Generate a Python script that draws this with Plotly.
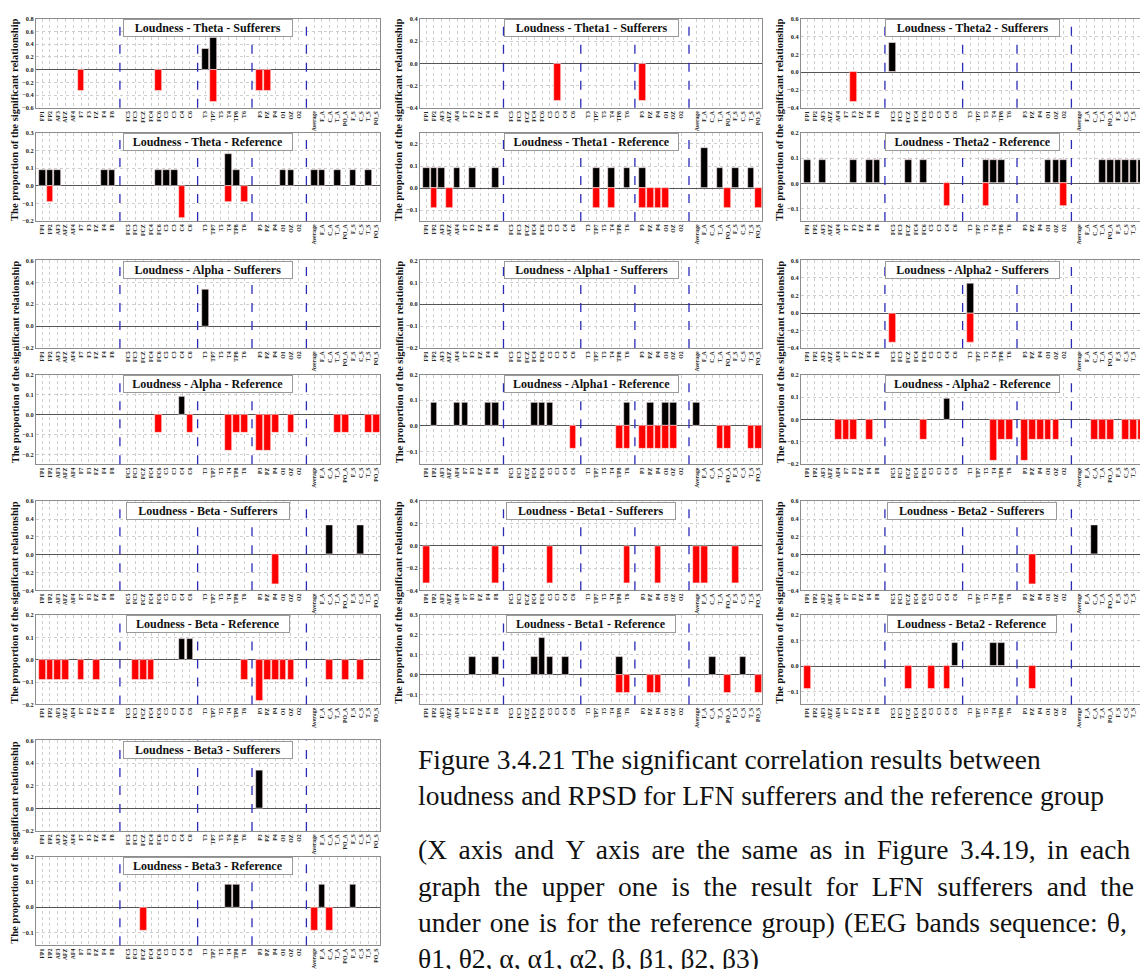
import plotly.graph_objects as go

# ---------------------------------------------------------------- channels
FRONTAL = ["FP1", "FP2", "AF3", "AFZ", "AF4", "F7", "F3", "FZ", "F4", "F8"]
CENTRAL = ["FC5", "FC3", "FCZ", "FC4", "FC6", "C5", "C3", "C4", "C6"]
TEMPORAL = ["T3", "TP7", "T5", "T4", "TP8", "T6"]
PARIETAL = ["P3", "PZ", "P4", "O1", "OZ", "O2"]
REGIONS = ["Average", "F_A", "C_A", "T_A", "PO_A", "F_S", "C_S", "T_S", "PO_S"]
GROUPS = [FRONTAL, CENTRAL, TEMPORAL, PARIETAL, REGIONS]

# ---------------------------------------------------------------- values
# proportion of significant positive (black) / negative (red) correlations
THETA_SUF_POS = {"T3": 0.333, "TP7": 0.5}
THETA_SUF_NEG = {"F7": -0.333, "FC6": -0.333, "TP7": -0.5, "P3": -0.333, "PZ": -0.333}
THETA_REF_POS = {"FP1": 0.091, "FP2": 0.091, "AF3": 0.091, "F4": 0.091, "F8": 0.091,
                 "FC6": 0.091, "C5": 0.091, "C3": 0.091, "T4": 0.182, "TP8": 0.091,
                 "O1": 0.091, "OZ": 0.091, "Average": 0.091, "F_A": 0.091,
                 "T_A": 0.091, "F_S": 0.091, "T_S": 0.091}
THETA_REF_NEG = {"FP2": -0.091, "C4": -0.182, "T4": -0.091, "T6": -0.091}

THETA1_SUF_POS = {}
THETA1_SUF_NEG = {"C3": -0.333, "P3": -0.333}
THETA1_REF_POS = {"FP1": 0.091, "FP2": 0.091, "AF3": 0.091, "AF4": 0.091, "F3": 0.091,
                  "F8": 0.091, "TP7": 0.091, "T4": 0.091, "T6": 0.091, "P3": 0.091,
                  "F_A": 0.182, "T_A": 0.091, "F_S": 0.091, "T_S": 0.091}
THETA1_REF_NEG = {"FP2": -0.091, "AFZ": -0.091, "TP7": -0.091, "T4": -0.091,
                  "P3": -0.091, "PZ": -0.091, "P4": -0.091, "O1": -0.091,
                  "PO_A": -0.091, "PO_S": -0.091}

THETA2_SUF_POS = {"FC5": 0.333}
THETA2_SUF_NEG = {"F3": -0.333}
THETA2_REF_POS = {"FP1": 0.091, "AF3": 0.091, "F3": 0.091, "F4": 0.091, "F8": 0.091,
                  "FCZ": 0.091, "FC6": 0.091, "T5": 0.091, "T4": 0.091, "TP8": 0.091,
                  "O1": 0.091, "OZ": 0.091, "O2": 0.091, "T_A": 0.091, "PO_A": 0.091,
                  "F_S": 0.091, "C_S": 0.091, "T_S": 0.091, "PO_S": 0.091}
THETA2_REF_NEG = {"C4": -0.091, "T5": -0.091, "O2": -0.091}

ALPHA_SUF_POS = {"T3": 0.333}
ALPHA_SUF_NEG = {}
ALPHA_REF_POS = {"C4": 0.091}
ALPHA_REF_NEG = {"FC6": -0.091, "C6": -0.091, "T4": -0.182, "TP8": -0.091,
                 "T6": -0.091, "P3": -0.182, "PZ": -0.182, "P4": -0.091,
                 "OZ": -0.091, "T_A": -0.091, "PO_A": -0.091, "T_S": -0.091,
                 "PO_S": -0.091}

ALPHA1_SUF_POS = {}
ALPHA1_SUF_NEG = {}
ALPHA1_REF_POS = {"FP2": 0.091, "AF4": 0.091, "F7": 0.091, "F4": 0.091, "F8": 0.091,
                  "FC4": 0.091, "FC6": 0.091, "C5": 0.091, "T6": 0.091, "PZ": 0.091,
                  "O1": 0.091, "OZ": 0.091, "Average": 0.091}
ALPHA1_REF_NEG = {"C6": -0.091, "TP8": -0.091, "T6": -0.091, "P3": -0.091,
                  "PZ": -0.091, "P4": -0.091, "O1": -0.091, "OZ": -0.091,
                  "T_A": -0.091, "PO_A": -0.091, "T_S": -0.091, "PO_S": -0.091}

ALPHA2_SUF_POS = {"T3": 0.333}
ALPHA2_SUF_NEG = {"FC5": -0.333, "T3": -0.333}
ALPHA2_REF_POS = {"C4": 0.091}
ALPHA2_REF_NEG = {"AF4": -0.091, "F7": -0.091, "F3": -0.091, "F4": -0.091,
                  "FC6": -0.091, "T4": -0.182, "TP8": -0.091, "T6": -0.091,
                  "P3": -0.182, "PZ": -0.091, "P4": -0.091, "O1": -0.091,
                  "OZ": -0.091, "C_A": -0.091, "T_A": -0.091, "PO_A": -0.091,
                  "C_S": -0.091, "T_S": -0.091, "PO_S": -0.091}

BETA_SUF_POS = {"C_A": 0.333, "C_S": 0.333}
BETA_SUF_NEG = {"P4": -0.333}
BETA_REF_POS = {"C4": 0.091, "C6": 0.091}
BETA_REF_NEG = {"FP1": -0.091, "FP2": -0.091, "AF3": -0.091, "AFZ": -0.091,
                "F7": -0.091, "FZ": -0.091, "FC3": -0.091, "FCZ": -0.091,
                "FC4": -0.091, "T6": -0.091, "P3": -0.182, "PZ": -0.091,
                "P4": -0.091, "O1": -0.091, "OZ": -0.091, "C_A": -0.091,
                "PO_A": -0.091, "C_S": -0.091}

BETA1_SUF_POS = {}
BETA1_SUF_NEG = {"FP1": -0.333, "F8": -0.333, "C5": -0.333, "T6": -0.333,
                 "P4": -0.333, "Average": -0.333, "F_A": -0.333, "F_S": -0.333}
BETA1_REF_POS = {"F3": 0.091, "F8": 0.091, "FC4": 0.091, "FC6": 0.182, "C5": 0.091,
                 "C4": 0.091, "TP8": 0.091, "C_A": 0.091, "C_S": 0.091}
BETA1_REF_NEG = {"TP8": -0.091, "T6": -0.091, "PZ": -0.091, "P4": -0.091,
                 "PO_A": -0.091, "PO_S": -0.091}

BETA2_SUF_POS = {"C_A": 0.333}
BETA2_SUF_NEG = {"PZ": -0.333}
BETA2_REF_POS = {"C6": 0.091, "T4": 0.091, "TP8": 0.091}
BETA2_REF_NEG = {"FP1": -0.091, "FCZ": -0.091, "C5": -0.091, "C4": -0.091,
                 "PZ": -0.091}

BETA3_SUF_POS = {"P3": 0.333}
BETA3_SUF_NEG = {}
BETA3_REF_POS = {"T4": 0.091, "TP8": 0.091, "F_A": 0.091, "F_S": 0.091}
BETA3_REF_NEG = {"FCZ": -0.091, "Average": -0.091, "C_A": -0.091}

# (band, column, pair row, sufferers data, reference data, sufferers y-range, reference y-range)
PANELS = [
    ("Theta", 0, 0, (THETA_SUF_POS, THETA_SUF_NEG), (THETA_REF_POS, THETA_REF_NEG), (-0.6, 0.8), (-0.2, 0.3)),
    ("Theta1", 1, 0, (THETA1_SUF_POS, THETA1_SUF_NEG), (THETA1_REF_POS, THETA1_REF_NEG), (-0.4, 0.4), (-0.15, 0.25)),
    ("Theta2", 2, 0, (THETA2_SUF_POS, THETA2_SUF_NEG), (THETA2_REF_POS, THETA2_REF_NEG), (-0.4, 0.6), (-0.15, 0.2)),
    ("Alpha", 0, 1, (ALPHA_SUF_POS, ALPHA_SUF_NEG), (ALPHA_REF_POS, ALPHA_REF_NEG), (-0.2, 0.6), (-0.25, 0.2)),
    ("Alpha1", 1, 1, (ALPHA1_SUF_POS, ALPHA1_SUF_NEG), (ALPHA1_REF_POS, ALPHA1_REF_NEG), (-0.2, 0.2), (-0.15, 0.2)),
    ("Alpha2", 2, 1, (ALPHA2_SUF_POS, ALPHA2_SUF_NEG), (ALPHA2_REF_POS, ALPHA2_REF_NEG), (-0.4, 0.6), (-0.2, 0.2)),
    ("Beta", 0, 2, (BETA_SUF_POS, BETA_SUF_NEG), (BETA_REF_POS, BETA_REF_NEG), (-0.4, 0.6), (-0.2, 0.2)),
    ("Beta1", 1, 2, (BETA1_SUF_POS, BETA1_SUF_NEG), (BETA1_REF_POS, BETA1_REF_NEG), (-0.4, 0.4), (-0.15, 0.3)),
    ("Beta2", 2, 2, (BETA2_SUF_POS, BETA2_SUF_NEG), (BETA2_REF_POS, BETA2_REF_NEG), (-0.4, 0.6), (-0.15, 0.2)),
    ("Beta3", 0, 3, (BETA3_SUF_POS, BETA3_SUF_NEG), (BETA3_REF_POS, BETA3_REF_NEG), (-0.2, 0.6), (-0.15, 0.2)),
]

CAPTION_1 = ["Figure 3.4.21 The significant correlation results between",
             "loudness and RPSD for LFN sufferers and the reference group"]
# second paragraph, with the extra inter-word space each justified line needs
CAPTION_2 = [("(X axis and Y axis are the same as in Figure 3.4.19, in each", "\u2006"),
             ("graph the upper one is the result for LFN sufferers and the", "\u2005"),
             ("under one is for the reference group) (EEG bands sequence: \u03b8,", "\u200a"),
             ("\u03b81, \u03b82, \u03b1, \u03b11, \u03b12, \u03b2, \u03b21, \u03b22, \u03b23)", "")]
Y_TITLE = "The proportion of the significant relationship"

# ---------------------------------------------------------------- layout (px)
W, H = 1140, 969
COLS = [(36, 380), (420, 762), (801, 1140)]          # plot-area left/right
SLOT_PX = [7.77, 7.73, 7.77]                           # width of one channel slot
PAIR_ROWS = [((15, 105.5), (131, 220.5)),
             ((260.5, 349.5), (376.5, 467.5)),
             ((505, 595.5), (620.5, 711.5)),
             ((748, 840), (866, 956))]
X_START = -0.8

FONT = "Liberation Serif"
BLACK, RED = "#000000", "#ff0000"

# channel -> slot position (one empty slot between groups)
POS, DIVIDERS = {}, []
slot = 0
for gi, grp in enumerate(GROUPS):
    for ch in grp:
        POS[ch] = slot
        slot += 1
    if gi < len(GROUPS) - 1:
        DIVIDERS.append(slot)
        slot += 1
CHANNELS = [ch for grp in GROUPS for ch in grp]


def xdom(px0, px1):
    return [px0 / W, min(px1 / W, 1.0)]


def ydom(py0, py1):
    return [1 - py1 / H, 1 - py0 / H]


fig = go.Figure()
layout = dict(width=W, height=H, margin=dict(l=0, r=0, t=0, b=0),
              paper_bgcolor="white", plot_bgcolor="white", showlegend=False,
              barmode="overlay", bargap=0)
annotations, shapes = [], []
ax_i = 0

for band, col, prow, suf, ref, suf_rng, ref_rng in PANELS:
    for part, (pos_d, neg_d), rng, (py0, py1) in (
            ("Sufferers", suf, suf_rng, PAIR_ROWS[prow][0]),
            ("Reference", ref, ref_rng, PAIR_ROWS[prow][1])):
        ax_i += 1
        xn = "x" if ax_i == 1 else f"x{ax_i}"
        yn = "y" if ax_i == 1 else f"y{ax_i}"
        xkey = "xaxis" if ax_i == 1 else f"xaxis{ax_i}"
        ykey = "yaxis" if ax_i == 1 else f"yaxis{ax_i}"
        px0, px1 = COLS[col]
        x_end = X_START + (px1 - px0) / SLOT_PX[col]
        for d, colr in ((pos_d, BLACK), (neg_d, RED)):
            if not d:
                continue
            fig.add_trace(go.Bar(
                x=[POS[c] for c in d], y=list(d.values()), width=0.86,
                marker=dict(color=colr, line=dict(color="#ffe8e8", width=0.6)),
                xaxis=xn, yaxis=yn, hoverinfo="skip"))
        last_col = col == 2
        layout[xkey] = dict(
            domain=xdom(px0, px1), range=[X_START, x_end], anchor=yn,
            tickvals=[POS[c] for c in CHANNELS], ticktext=CHANNELS,
            tickangle=-90, ticks="", ticklen=0,
            tickfont=dict(family=FONT, size=5.8, color="#222", weight="bold"),
            showgrid=True, gridcolor="#cfcfcf", griddash="dot", gridwidth=0.8,
            showline=True, linecolor="#8c8c8c", linewidth=1, mirror=True,
            zeroline=False, fixedrange=True)
        step = 0.2 if (rng[1] - rng[0]) > 0.7 else 0.1
        layout[ykey] = dict(
            domain=ydom(py0, py1), range=list(rng), anchor=xn,
            dtick=step, tick0=0, tickformat=".1f", ticks="",
            tickfont=dict(family=FONT, size=6.3, color="#222", weight="bold"),
            showgrid=True, gridcolor="#cfcfcf", griddash="dot", gridwidth=0.8,
            showline=True, linecolor="#8c8c8c", linewidth=1,
            mirror=not last_col,
            zeroline=True, zerolinecolor="#555555", zerolinewidth=1,
            fixedrange=True)
        # group dividers
        for dv in DIVIDERS:
            shapes.append(dict(type="line", xref=xn, yref=f"{yn} domain",
                               x0=dv, x1=dv, y0=0, y1=1,
                               line=dict(color="#2b2bb8", width=1.3, dash="dash")))
        # boxed panel title
        title = f"Loudness - {band} - {part}"
        annotations.append(dict(
            text=title, xref=f"{xn} domain", yref=f"{yn} domain",
            x=0.5 if not last_col
            else (COLS[1][1] - COLS[1][0]) / 2 / (px1 - px0),
            y=0.995, xanchor="center", yanchor="top", showarrow=False,
            font=dict(family=FONT, size=12, color="#111", weight="bold"),
            bgcolor="white", bordercolor="#9a9a9a", borderwidth=1, borderpad=1,
            width=len(title) * 5.7 + 6, height=14))

    # shared y-axis title for the pair
    top = PAIR_ROWS[prow][0][0]
    bot = PAIR_ROWS[prow][1][1]
    annotations.append(dict(
        text=Y_TITLE, xref="paper", yref="paper",
        x=(COLS[col][0] - 21) / W, y=1 - (top + bot) / 2 / H,
        xanchor="center", yanchor="middle", textangle=-90, showarrow=False,
        font=dict(family=FONT, size=10.5, color="#111", weight="bold")))

# caption
CAPTION_FONT = dict(family=FONT, size=27.5, color="#111")
for i, line in enumerate(CAPTION_1):
    annotations.append(dict(text=line, xref="paper", yref="paper",
                            x=416 / W, y=1 - (767 + 37 * i) / H,
                            xanchor="left", yanchor="middle", showarrow=False,
                            font=CAPTION_FONT))
for i, (line, pad) in enumerate(CAPTION_2):
    annotations.append(dict(text=line.replace(" ", " " + pad), xref="paper", yref="paper",
                            x=416 / W, y=1 - (859 + 37 * i) / H,
                            xanchor="left", yanchor="middle", showarrow=False,
                            font=CAPTION_FONT))

layout["annotations"] = annotations
layout["shapes"] = shapes
fig.update_layout(**layout)
fig.write_html("out.html", config={"displayModeBar": False})
